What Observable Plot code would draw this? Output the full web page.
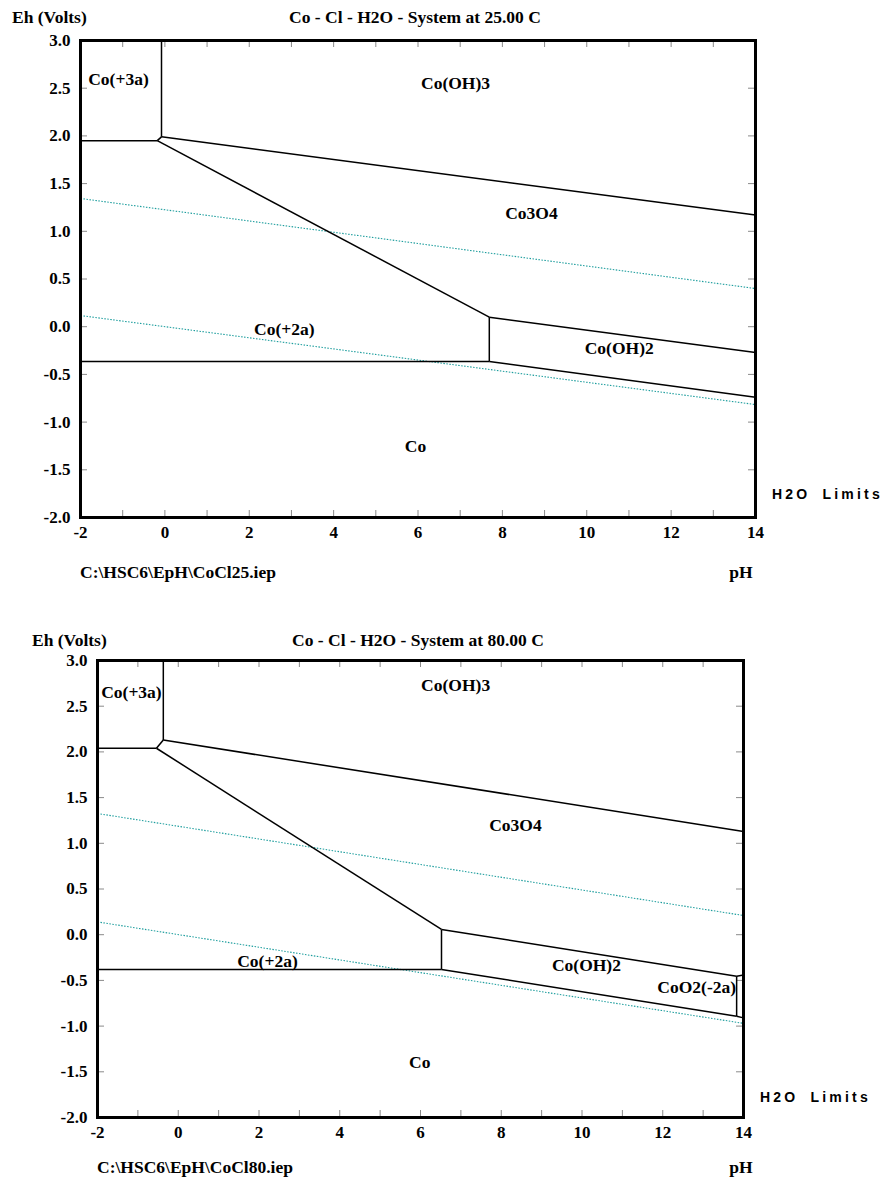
<!DOCTYPE html>
<html><head><meta charset="utf-8">
<script src="https://cdn.jsdelivr.net/npm/d3@7"></script>
<script src="https://cdn.jsdelivr.net/npm/@observablehq/plot@0.6"></script>
<style>
body{margin:0;background:#fff;}
#wrap{position:relative;width:885px;height:1180px;font-family:"Liberation Serif","Times New Roman",serif;font-weight:bold;color:#000;overflow:hidden;}
.t{position:absolute;white-space:nowrap;font-size:17.5px;line-height:1;}
.c{transform:translate(-50%,-50%);}
.l{transform:translate(0,-50%);}
.h2o{font-family:"Liberation Sans",Arial,sans-serif;font-size:14px;letter-spacing:3.2px;word-spacing:5px;}
.fig{position:absolute;left:0;}
</style></head><body><div id="wrap"></div>
<script>
// ---- axis values ----
const xDomain = [-2, 14];
const yDomain = [-2, 3];
const xLabelVals = [-2, 0, 2, 4, 6, 8, 10, 12, 14];
const xTickVals = d3.range(-2, 15, 1);
const yTickVals = [-2, -1.5, -1, -0.5, 0, 0.5, 1, 1.5, 2, 2.5, 3];

const titles = ["Co - Cl - H2O - System at 25.00 C", "Co - Cl - H2O - System at 80.00 C"];
const files = ["C:\\HSC6\\EpH\\CoCl25.iep", "C:\\HSC6\\EpH\\CoCl80.iep"];

// ---- 25 C diagram ----
const bounds25 = [
  {x1: -0.08, y1: 3.0,   x2: -0.08, y2: 1.99},
  {x1: -0.08, y1: 1.99,  x2: -0.18, y2: 1.95},
  {x1: -2,    y1: 1.95,  x2: -0.18, y2: 1.95},
  {x1: -0.08, y1: 1.99,  x2: 14,    y2: 1.17},
  {x1: -0.18, y1: 1.95,  x2: 7.69,  y2: 0.10},
  {x1: 7.69,  y1: 0.10,  x2: 14,    y2: -0.27},
  {x1: 7.69,  y1: 0.10,  x2: 7.69,  y2: -0.365},
  {x1: -2,    y1: -0.365,x2: 7.69,  y2: -0.365},
  {x1: 7.69,  y1: -0.365,x2: 14,    y2: -0.74}
];
const water25 = [
  {x1: -2, y1: 1.344, x2: 14, y2: 0.40},
  {x1: -2, y1: 0.117, x2: 14, y2: -0.816}
];
const labels25 = [
  {name: "Co(+3a)", pH: -1.1, Eh: 2.59},
  {name: "Co(OH)3", pH: 6.89, Eh: 2.55},
  {name: "Co3O4",   pH: 8.69, Eh: 1.19},
  {name: "Co(+2a)", pH: 2.83, Eh: -0.03},
  {name: "Co(OH)2", pH: 10.77, Eh: -0.23},
  {name: "Co",      pH: 5.94, Eh: -1.25}
];

// ---- 80 C diagram ----
const bounds80 = [
  {x1: -0.37, y1: 3.0,   x2: -0.37, y2: 2.13},
  {x1: -0.37, y1: 2.13,  x2: -0.54, y2: 2.04},
  {x1: -2,    y1: 2.04,  x2: -0.54, y2: 2.04},
  {x1: -0.37, y1: 2.13,  x2: 14,    y2: 1.13},
  {x1: -0.54, y1: 2.04,  x2: 6.52,  y2: 0.057},
  {x1: 6.52,  y1: 0.057, x2: 13.83, y2: -0.454},
  {x1: 13.83, y1: -0.454,x2: 14,    y2: -0.44},
  {x1: 6.52,  y1: 0.057, x2: 6.52,  y2: -0.38},
  {x1: -2,    y1: -0.38, x2: 6.52,  y2: -0.38},
  {x1: 6.52,  y1: -0.38, x2: 13.83, y2: -0.892},
  {x1: 13.83, y1: -0.892,x2: 14,    y2: -0.91},
  {x1: 13.83, y1: -0.454,x2: 13.83, y2: -0.892}
];
const water80 = [
  {x1: -2, y1: 1.326, x2: 14, y2: 0.21},
  {x1: -2, y1: 0.14,  x2: 14, y2: -0.97}
];
const labels80 = [
  {name: "Co(+3a)",   pH: -1.16, Eh: 2.65},
  {name: "Co(OH)3",   pH: 6.87,  Eh: 2.73},
  {name: "Co3O4",     pH: 8.35,  Eh: 1.195},
  {name: "Co(+2a)",   pH: 2.21,  Eh: -0.29},
  {name: "Co(OH)2",   pH: 10.11, Eh: -0.34},
  {name: "CoO2(-2a)", pH: 12.84, Eh: -0.58},
  {name: "Co",        pH: 5.98,  Eh: -1.40}
];

const wrap = document.getElementById("wrap");

function txt(s, cls, x, y) {
  const d = document.createElement("div");
  d.className = "t " + cls;
  d.textContent = s;
  d.style.left = x + "px";
  d.style.top = y + "px";
  wrap.appendChild(d);
}

function draw(cfg) {
  const W = cfg.width - cfg.ml - cfg.mr;
  const H = cfg.height - cfg.mt - cfg.mb;
  const tickLen = 7;
  const p = Plot.plot({
    width: cfg.width, height: cfg.height,
    marginLeft: cfg.ml, marginRight: cfg.mr, marginTop: cfg.mt, marginBottom: cfg.mb,
    style: {fontFamily: '"Liberation Serif","Times New Roman",serif', fontWeight: "bold", fontSize: "17px", color: "#000", background: "transparent"},
    x: {domain: xDomain},
    y: {domain: yDomain},
    marks: [
      Plot.tickY(yTickVals, {y: d => d, stroke: "#8a8a8a", insetRight: W - tickLen}),
      Plot.tickY(yTickVals, {y: d => d, stroke: "#8a8a8a", insetLeft: W - tickLen}),
      Plot.tickX(xTickVals, {x: d => d, stroke: "#8a8a8a", insetBottom: H - tickLen}),
      Plot.tickX(xTickVals, {x: d => d, stroke: "#8a8a8a", insetTop: H - tickLen}),
      Plot.link(cfg.water, {x1: "x1", y1: "y1", x2: "x2", y2: "y2", stroke: "#1f9e9e", strokeWidth: 1.1, strokeDasharray: "1.5,1.5"}),
      Plot.link(cfg.bounds, {x1: "x1", y1: "y1", x2: "x2", y2: "y2", stroke: "#000", strokeWidth: 1.5}),
      Plot.text(cfg.labels, {x: "pH", y: "Eh", text: "name", fill: "#000", fontSize: 17.5, fontWeight: "bold"}),
      Plot.axisX({ticks: xLabelVals, tickSize: 0, tickPadding: 8, tickFormat: d => String(d), label: null}),
      Plot.axisY({ticks: yTickVals, tickSize: 0, tickPadding: 10, tickFormat: d => d.toFixed(1), label: null}),
      Plot.frame({stroke: "#000", strokeWidth: 3})
    ]
  });
  p.classList.add("fig");
  p.style.top = cfg.top + "px";
  wrap.appendChild(p);
}

draw({top: 0, width: 885, height: 600, ml: 80, mr: 130, mt: 40, mb: 83,
      bounds: bounds25, water: water25, labels: labels25});
draw({top: 620, width: 885, height: 560, ml: 97, mr: 142, mt: 40, mb: 63,
      bounds: bounds80, water: water80, labels: labels80});

// chart 1 texts
txt("Eh (Volts)", "l", 12, 18);
txt(titles[0], "c", 415, 18);
txt(files[0], "l", 80, 573);
txt("pH", "c", 741, 573);
txt("H2O Limits", "l h2o", 772, 494);
// chart 2 texts
txt("Eh (Volts)", "l", 32, 641);
txt(titles[1], "c", 418, 641);
txt(files[1], "l", 97, 1168);
txt("pH", "c", 741, 1168);
txt("H2O Limits", "l h2o", 760, 1097);
</script></body></html>
